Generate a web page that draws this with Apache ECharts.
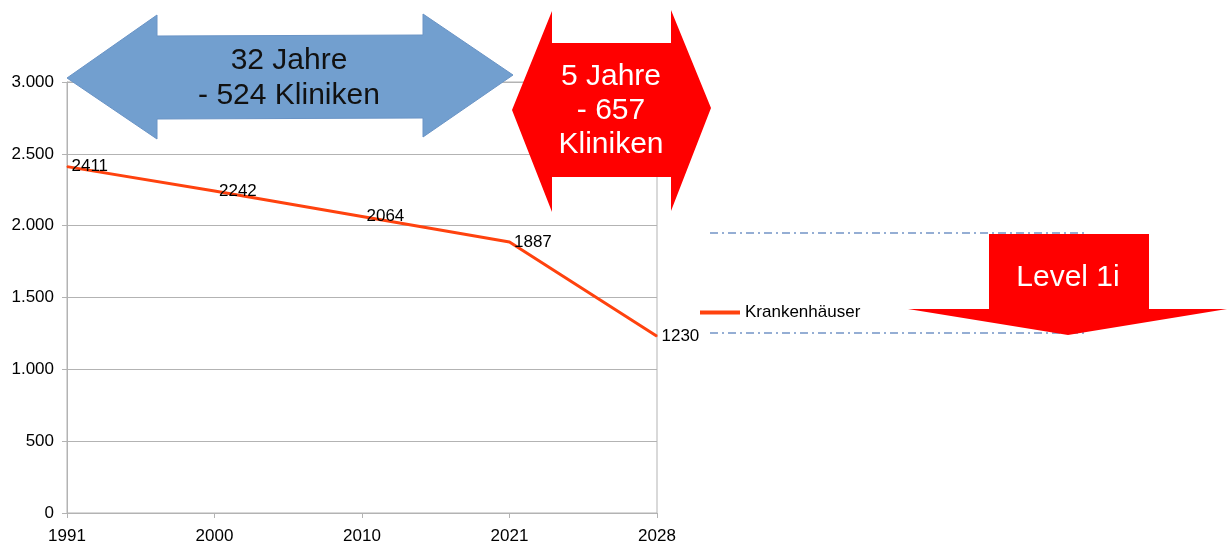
<!DOCTYPE html>
<html>
<head>
<meta charset="utf-8">
<script src="https://cdn.jsdelivr.net/npm/echarts@6/dist/echarts.min.js"></script>
<style>
html,body{margin:0;padding:0;background:#fff;}
#chart{width:1227px;height:545px;}
</style>
</head>
<body>
<div id="chart"></div>
<script>
// ---- data ----
const categories = ['1991', '2000', '2010', '2021', '2028'];
const krankenhaeuser = [2411, 2242, 2064, 1887, 1230];
const seriesName = 'Krankenhäuser';
const yTicks = [0, 500, 1000, 1500, 2000, 2500, 3000];
const blueArrowText = ['32 Jahre', '- 524 Kliniken'];
const redArrowText = ['5 Jahre', '- 657', 'Kliniken'];
const levelText = 'Level 1i';

const FONT = '"Liberation Sans", Arial, sans-serif';
const GRAY = '#b3b3b3';

function fmtThousands(v) {
  return String(v).replace(/\B(?=(\d{3})+(?!\d))/g, '.');
}

const chart = echarts.init(document.getElementById('chart'));

const dashDot = [8, 4, 2, 4];

const option = {
  backgroundColor: '#ffffff',
  animation: false,
  textStyle: { fontFamily: FONT },
  grid: {
    left: 67, right: 570, top: 82, bottom: 31,
    show: true, borderColor: GRAY, borderWidth: 1, backgroundColor: 'transparent'
  },
  legend: {
    show: true,
    left: 695, top: 299,
    icon: 'rect',
    itemWidth: 40, itemHeight: 4,
    itemGap: 10,
    textStyle: { fontSize: 17, color: '#000', fontFamily: FONT },
    data: [seriesName]
  },
  xAxis: {
    type: 'category',
    data: categories,
    boundaryGap: false,
    axisLine: { show: true, lineStyle: { color: GRAY, width: 1 } },
    axisTick: { show: true, length: 5, lineStyle: { color: GRAY } },
    axisLabel: { fontSize: 17, color: '#000', margin: 15, fontFamily: FONT },
    splitLine: { show: false }
  },
  yAxis: {
    type: 'value',
    min: yTicks[0], max: yTicks[yTicks.length - 1], interval: 500,
    axisLine: { show: true, lineStyle: { color: GRAY, width: 1 } },
    axisTick: { show: true, length: 5, lineStyle: { color: GRAY } },
    axisLabel: { fontSize: 17, color: '#000', margin: 13, fontFamily: FONT, formatter: fmtThousands },
    splitLine: { show: true, lineStyle: { color: GRAY, width: 1 } }
  },
  series: [{
    name: seriesName,
    type: 'line',
    data: krankenhaeuser,
    symbol: 'circle',
    symbolSize: 1,
    showSymbol: true,
    lineStyle: { color: '#ff420e', width: 3 },
    itemStyle: { color: '#ff420e' },
    label: {
      show: true, position: 'right', distance: 4,
      fontSize: 17, color: '#000', fontFamily: FONT
    },
    z: 3
  }],
  graphic: [
    // dash-dot guide lines
    { type: 'line', z: 50, shape: { x1: 710, y1: 233, x2: 1085, y2: 233 },
      style: { stroke: '#7394c6', lineWidth: 1.5, lineDash: dashDot } },
    { type: 'line', z: 50, shape: { x1: 710, y1: 333, x2: 1085, y2: 333 },
      style: { stroke: '#7394c6', lineWidth: 1.5, lineDash: dashDot } },
    // blue double arrow
    { type: 'polygon', z: 60,
      shape: { points: [[67, 78], [157, 15], [157, 36], [423, 35], [423, 14], [513, 75], [423, 137], [423, 118], [157, 119], [157, 139]] },
      style: { fill: '#729fcf', stroke: '#6a94c6', lineWidth: 1 } },
    { type: 'text', z: 61, x: 289, y: 78,
      style: { text: blueArrowText.join('\n'), fill: '#111', font: '30px ' + FONT, align: 'center', verticalAlign: 'middle', lineHeight: 35 } },
    // red double arrow
    { type: 'polygon', z: 60,
      shape: { points: [[512, 110], [552, 11], [552, 43], [671, 43], [671, 10], [711, 108], [671, 211], [671, 177], [552, 177], [552, 212]] },
      style: { fill: '#ff0000' } },
    { type: 'text', z: 61, x: 611, y: 111,
      style: { text: redArrowText.join('\n'), fill: '#fff', font: '30px ' + FONT, align: 'center', verticalAlign: 'middle', lineHeight: 34 } },
    // red down arrow
    { type: 'polygon', z: 60,
      shape: { points: [[989, 234], [1149, 234], [1149, 309], [1227, 309], [1068, 335], [908, 309], [989, 309]] },
      style: { fill: '#ff0000' } },
    { type: 'text', z: 61, x: 1068, y: 278,
      style: { text: levelText, fill: '#fff', font: '30px ' + FONT, align: 'center', verticalAlign: 'middle' } }
  ]
};

chart.setOption(option);
</script>
</body>
</html>
